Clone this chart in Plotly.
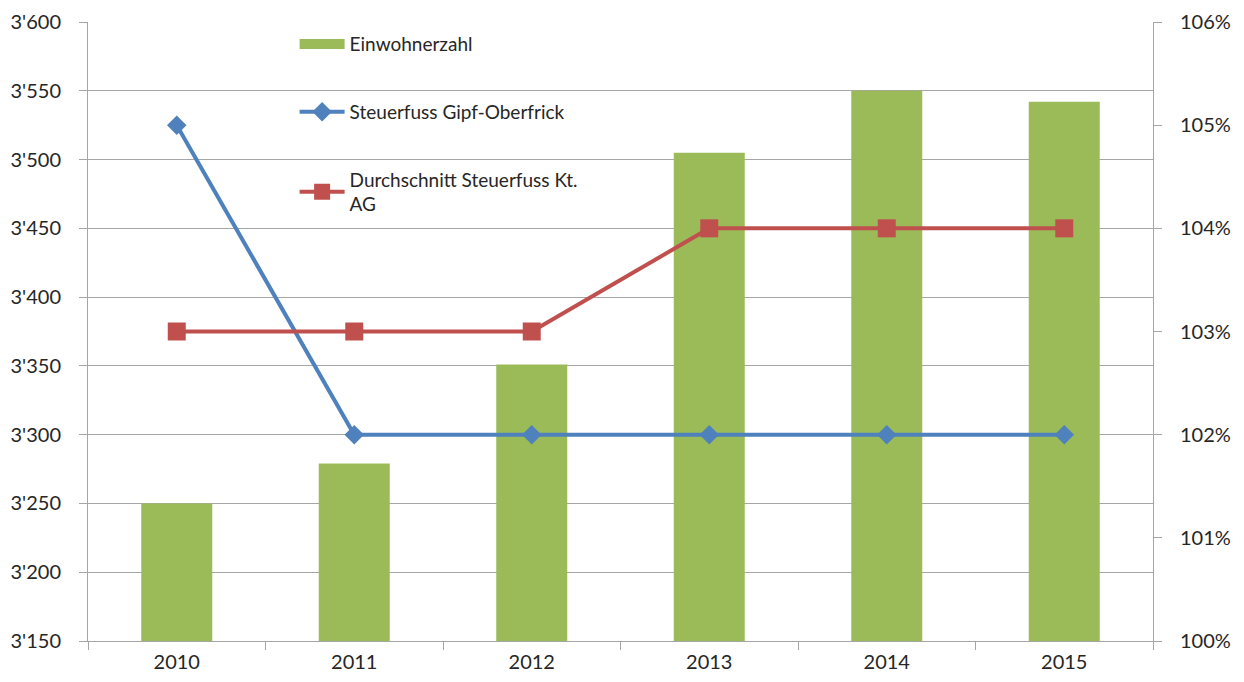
import plotly.graph_objects as go

years = ["2010", "2011", "2012", "2013", "2014", "2015"]
einwohner = [3250, 3279, 3351, 3505, 3550, 3542]
steuerfuss_gipf = [105, 102, 102, 102, 102, 102]
steuerfuss_ag = [103, 103, 103, 104, 104, 104]

green = "#9BBB59"
blue = "#4F81BD"
red = "#C0504D"
grid = "#A6A6A6"
txt = "#262626"
font = "Lato"

fig = go.Figure()
fig.add_trace(go.Bar(
    x=years, y=einwohner, name="Einwohnerzahl",
    marker=dict(color=green, line=dict(width=0)),
    showlegend=False, yaxis="y",
))
# legend entry for the bars (wide rectangle like the original legend key)
fig.add_trace(go.Scatter(
    x=[None], y=[None], name="Einwohnerzahl", mode="lines",
    line=dict(color=green, width=12), legendgroup="a", yaxis="y",
    hoverinfo="skip",
))
fig.add_trace(go.Scatter(
    x=years, y=steuerfuss_gipf, name="Steuerfuss Gipf-Oberfrick",
    mode="lines+markers", line=dict(color=blue, width=4),
    marker=dict(symbol="diamond", size=15, color=blue),
    legendgroup="b", yaxis="y2",
))
fig.add_trace(go.Scatter(
    x=years, y=steuerfuss_ag, name="Durchschnitt Steuerfuss Kt.<br>AG",
    mode="lines+markers", line=dict(color=red, width=4),
    marker=dict(symbol="square", size=18, color=red),
    legendgroup="c", yaxis="y2",
))

fig.update_layout(
    width=1228, height=666,
    margin=dict(l=80, r=83, t=14, b=33, autoexpand=False),
    paper_bgcolor="white", plot_bgcolor="white",
    font=dict(family=font, size=20, color=txt),
    separators=".'",
    bargap=0.6,
    showlegend=True,
    legend=dict(
        x=0.194, y=0.995, xanchor="left", yanchor="top",
        bgcolor="rgba(0,0,0,0)", font=dict(size=19, color=txt),
        traceorder="grouped", tracegroupgap=40, itemwidth=45,
    ),
    xaxis=dict(
        type="category", showgrid=False, showline=True, linecolor=grid, linewidth=1,
        ticks="outside", tickson="boundaries", ticklen=8, tickcolor=grid,
        tickfont=dict(size=20, color=txt), ticklabelstandoff=3, automargin=False,
    ),
    yaxis=dict(
        range=[3150, 3600], dtick=50, tick0=3150, tickformat=",d",
        showgrid=True, gridcolor=grid, gridwidth=1,
        showline=True, linecolor=grid, linewidth=1,
        ticks="outside", ticklen=8, tickcolor=grid, zeroline=False,
        tickfont=dict(size=20, color=txt), ticklabelstandoff=14, automargin=False,
    ),
    yaxis2=dict(
        range=[100, 106], dtick=1, ticksuffix="%", overlaying="y", side="right",
        showgrid=False, showline=True, linecolor=grid, linewidth=1,
        ticks="outside", ticklen=8, tickcolor=grid, zeroline=False,
        tickfont=dict(size=20, color=txt), ticklabelstandoff=14, automargin=False,
    ),
)

fig.write_html("out.html")
